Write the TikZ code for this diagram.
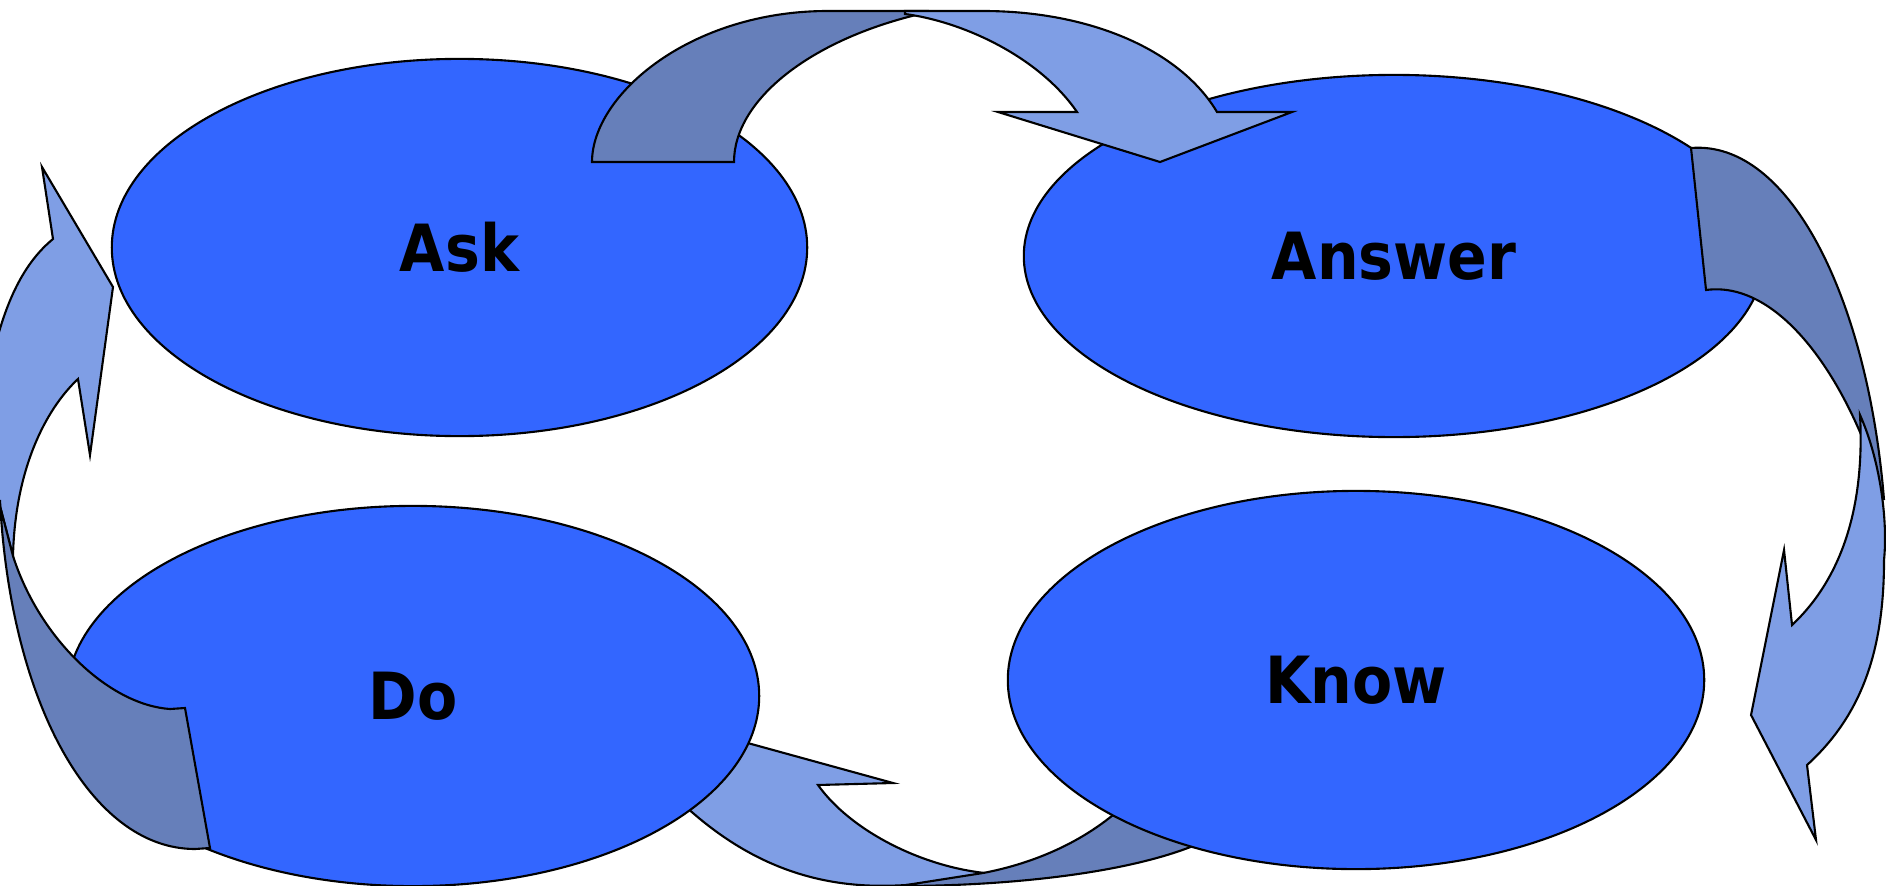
\documentclass[tikz,border=0pt]{standalone}
\usepackage{fontspec}
\newfontfamily\labelfont{DejaVu Sans}[FakeStretch=0.9]
\usetikzlibrary{shapes.geometric}

\definecolor{bubbleblue}{RGB}{51,102,255}
\definecolor{ribbondark}{RGB}{102,127,186}
\definecolor{ribbonlight}{RGB}{127,158,229}

\tikzset{
  bubble/.style={ellipse, draw=black, fill=bubbleblue, line width=0.6pt,
    inner sep=0pt, font=\labelfont\bfseries\fontsize{18.5pt}{22pt}\selectfont},
  ribbonback/.style={draw=black, fill=ribbondark, line width=0.6pt},
  ribbonfront/.style={draw=black, fill=ribbonlight, line width=0.6pt},
}

\begin{document}
\begin{tikzpicture}[x=0.01cm, y=-0.01cm]
\useasboundingbox (0,0) rectangle (1886,885);
\clip (0,0) rectangle (1886,885);

% Know -> Do: passes behind both ellipses
\filldraw[ribbonfront] (675,723) -- (893,783) -- (818,785)
  .. controls (850,830) and (920,866) .. (985,873)
  .. controls (950,882) and (900,888) .. (860,885)
  .. controls (790,880) and (720,850) .. (650,770) -- cycle;
\filldraw[ribbonback] (900,886)
  .. controls (1000,886) and (1120,875) .. (1193,846)
  -- (1240,815) -- (1160,780) -- (1113,815)
  .. controls (1070,850) and (1020,866) .. (983,873) -- cycle;

% the four stages
\node[bubble, minimum width=6.95cm, minimum height=3.77cm] (ask)    at (459.5,247.5) {Ask};
\node[bubble, minimum width=7.40cm, minimum height=3.62cm] (answer) at (1394,256)    {Answer};
\node[bubble, minimum width=6.96cm, minimum height=3.78cm] (know)   at (1356,680)    {Know};
\node[bubble, minimum width=6.92cm, minimum height=3.80cm] (do)     at (413,696)     {Do};

% Ask -> Answer
\filldraw[ribbonback] (592,162)
  .. controls (592,95) and (690,11) .. (828,11) -- (925,11) -- (920,14)
  .. controls (810,40) and (734,100) .. (734,162) -- cycle;
\filldraw[ribbonfront] (905,14)
  .. controls (965,22) and (1040,58) .. (1077,112)
  -- (998,112) -- (1160,162) -- (1292,112) -- (1217,112)
  .. controls (1180,50) and (1090,11) .. (983,11) -- (905,11) -- cycle;

% Answer -> Know
\filldraw[ribbonback] (1691,148)
  .. controls (1790,140) and (1868,300) .. (1884,500)
  .. controls (1850,380) and (1780,280) .. (1706,290) -- cycle;
\filldraw[ribbonfront] (1860,415)
  .. controls (1880,460) and (1888,520) .. (1884,560)
  .. controls (1884,650) and (1862,715) .. (1807,765)
  -- (1816,840) -- (1751,715) -- (1784,550) -- (1792,625)
  .. controls (1840,580) and (1865,510) .. (1860,415) -- cycle;

% Do -> Ask
\filldraw[ribbonfront] (53,239) -- (42,167) -- (113,287) -- (90,455) -- (78,379)
  .. controls (45,410) and (15,470) .. (13,556)
  -- (0,506) -- (-30,470) -- (-8,360)
  .. controls (5,300) and (25,262) .. (53,239) -- cycle;
\filldraw[ribbonback] (0,506) -- (13,556)
  .. controls (40,640) and (110,705) .. (170,709)
  -- (185,708) -- (210,848) -- (195,849)
  .. controls (90,849) and (10,700) .. (0,500) -- cycle;
\end{tikzpicture}
\end{document}
